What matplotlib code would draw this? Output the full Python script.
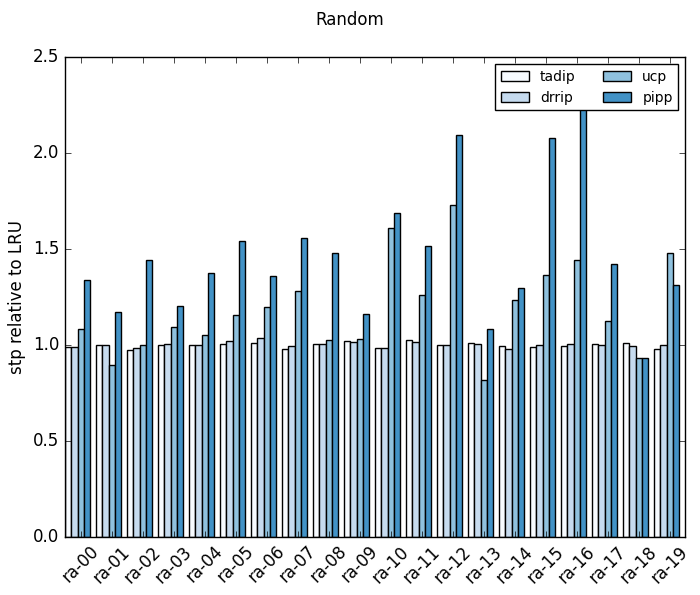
import matplotlib
matplotlib.use("Agg")
import matplotlib.pyplot as plt
import numpy as np

plt.style.use('classic')

# benchmarks and stp values relative to LRU
benchmarks = ['ra-%02d' % i for i in range(20)]
tadip = [0.99, 1.00, 0.975, 1.00, 1.00, 1.005, 1.01, 0.98, 1.005, 1.02,
         0.985, 1.025, 1.00, 1.01, 0.995, 0.99, 0.995, 1.005, 1.01, 0.98]
drrip = [0.99, 1.00, 0.985, 1.005, 1.00, 1.02, 1.035, 0.995, 1.005, 1.015,
         0.985, 1.015, 1.00, 1.005, 0.98, 1.00, 1.005, 1.00, 0.995, 1.00]
ucp = [1.085, 0.895, 1.00, 1.095, 1.05, 1.155, 1.20, 1.28, 1.025, 1.03,
       1.61, 1.26, 1.73, 0.82, 1.235, 1.365, 1.445, 1.125, 0.935, 1.48]
pipp = [1.338, 1.172, 1.443, 1.202, 1.375, 1.542, 1.36, 1.557, 1.48, 1.162,
        1.688, 1.515, 2.094, 1.083, 1.297, 2.077, 2.30, 1.42, 0.935, 1.312]

series = [('tadip', tadip), ('drrip', drrip), ('ucp', ucp), ('pipp', pipp)]
colors = ['#f7fbff', '#c6dbef', '#8fc1de', '#4292c6']

fig = plt.figure(figsize=(7, 5.95), dpi=100, facecolor='white')
ax = fig.add_axes([0.093, 0.0975, 0.886, 0.8065])

ind = np.arange(len(benchmarks))
width = 0.2
for k, (name, vals) in enumerate(series):
    ax.bar(ind + k * width, vals, width, color=colors[k], edgecolor='black',
           linewidth=1, label=name, align='edge')

ax.set_xlim(0, len(benchmarks))
ax.set_ylim(0, 2.5)
ax.set_xticks(ind + 0.5)
ax.set_xticklabels(benchmarks, rotation=45)
ax.set_ylabel('stp relative to LRU')
ax.legend(loc='upper right', ncol=2, fontsize=10)
fig.suptitle('Random', fontsize=12, y=0.982)

fig.savefig('out.png', dpi=100, facecolor='white')
